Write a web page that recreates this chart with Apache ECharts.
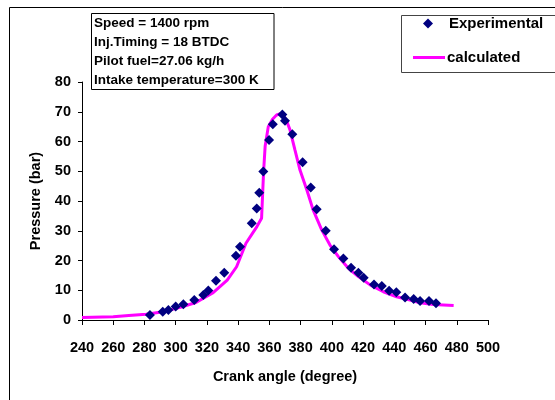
<!DOCTYPE html>
<html>
<head>
<meta charset="utf-8">
<script src="https://cdn.jsdelivr.net/npm/echarts@6/dist/echarts.min.js"></script>
<style>
html,body{margin:0;padding:0;background:#fff;}
#c{width:555px;height:400px;}
</style>
</head>
<body>
<div id="c"></div>
<script>
// Experimental data
const expAngle = [283.5, 291.7, 295.3, 300, 304.9, 311.9, 317.7, 320.9, 325.8, 331.1, 338.6, 341.2, 348.7, 351.9, 353.5, 356.1, 359.8, 362.2, 368.3, 370, 374.7, 381.3, 386.5, 390.3, 396.1, 401.4, 407.4, 412.3, 417, 420.4, 427, 432, 436.7, 441.3, 446.9, 452.4, 456.5, 462.2, 466.7];
const expPressure = [1.7, 2.8, 3.4, 4.5, 5.3, 6.7, 8.4, 9.9, 13.2, 15.9, 21.6, 24.6, 32.5, 37.5, 42.8, 49.9, 60.5, 65.8, 69.1, 67, 62.4, 53, 44.5, 37.2, 30, 23.8, 20.7, 17.6, 15.9, 14.2, 11.9, 11.4, 9.8, 9.3, 7.6, 7.1, 6.4, 6.4, 5.6];
// Calculated data
const calcAngle = [240, 260, 270, 281, 292, 303, 313, 324, 333, 339, 345, 352, 355, 356.3, 357.3, 359.3, 362, 364.6, 368, 371, 373.2, 376.4, 379.6, 384, 388, 393.5, 398.8, 404.2, 410.6, 417, 424.5, 433, 441.5, 450, 456.5, 465, 478];
const calcPressure = [0.8, 1.1, 1.5, 1.9, 2.8, 4.3, 5.9, 9.2, 13.4, 17.9, 25.8, 31.4, 34.2, 50, 58.5, 65, 67.5, 68.9, 69.5, 67, 63.9, 57.1, 50.4, 43.7, 37, 30.3, 25.2, 21.3, 17.4, 14.6, 11.8, 9.5, 7.8, 6.7, 5.8, 5.2, 4.9];
const infoLines = ['Speed = 1400 rpm', 'Inj.Timing = 18 BTDC', 'Pilot fuel=27.06 kg/h', 'Intake temperature=300 K'];

const FONT = '"Liberation Sans", Arial, sans-serif';
const chart = echarts.init(document.getElementById('c'), null, {renderer: 'canvas'});

const zip = (a, b) => a.map((v, i) => [v, b[i]]);
const legendText = {fontFamily: FONT, fontWeight: 'bold', fontSize: 15, color: '#000', lineHeight: 14};

chart.setOption({
  animation: false,
  backgroundColor: '#fff',
  textStyle: {fontFamily: FONT},
  grid: {left: 82, right: 67, top: 82, bottom: 80},
  legend: [
    {
      left: 423, top: 16, padding: 0,
      itemWidth: 10, itemHeight: 10,
      textStyle: Object.assign({}, legendText, {padding: [0, 0, 0, 11]}),
      data: [{name: 'Experimental', icon: 'diamond'}]
    },
    {
      left: 413, top: 50, padding: 0,
      itemWidth: 32, itemHeight: 3,
      textStyle: Object.assign({}, legendText, {padding: [0, 0, 0, -3]}),
      data: [{name: 'calculated', icon: 'rect'}]
    }
  ],
  xAxis: {
    type: 'value', min: 240, max: 500, interval: 20,
    name: 'Crank angle (degree)', nameLocation: 'middle', nameGap: 49,
    nameTextStyle: {fontFamily: FONT, fontWeight: 'bold', fontSize: 14.5, color: '#000'},
    axisLine: {show: true, lineStyle: {color: '#000', width: 1}},
    axisTick: {show: true, inside: false, length: 5, lineStyle: {color: '#000'}},
    axisLabel: {fontFamily: FONT, fontWeight: 'bold', fontSize: 14.5, color: '#000', margin: 20},
    splitLine: {show: false}
  },
  yAxis: {
    type: 'value', min: 0, max: 80, interval: 10,
    name: 'Pressure (bar)', nameLocation: 'middle', nameGap: 36, nameRotate: 90,
    nameTextStyle: {fontFamily: FONT, fontWeight: 'bold', fontSize: 14.5, color: '#000'},
    axisLine: {show: true, lineStyle: {color: '#000', width: 1}},
    axisTick: {show: true, inside: false, length: 4, lineStyle: {color: '#000'}},
    axisLabel: {fontFamily: FONT, fontWeight: 'bold', fontSize: 14.5, color: '#000', margin: 11},
    splitLine: {show: false}
  },
  series: [
    {
      name: 'calculated', type: 'line', data: zip(calcAngle, calcPressure),
      symbol: 'none', showSymbol: false, smooth: false,
      lineStyle: {color: '#FF00FF', width: 3},
      itemStyle: {color: '#FF00FF'}, z: 2
    },
    {
      name: 'Experimental', type: 'scatter', data: zip(expAngle, expPressure),
      symbol: 'diamond', symbolSize: 10,
      itemStyle: {color: '#000080', opacity: 1}, z: 3
    }
  ],
  graphic: [
    {type: 'rect', shape: {x: 9.5, y: 7.5, width: 700, height: 600}, style: {fill: 'none', stroke: '#000', lineWidth: 1}, silent: true, z: -10},
    {type: 'rect', shape: {x: 401.5, y: 15.5, width: 300, height: 57}, style: {fill: '#fff', stroke: '#444', lineWidth: 1}, silent: true, z: -5},
    {type: 'rect', shape: {x: 91.5, y: 13.5, width: 182.5, height: 76}, style: {fill: '#fff', stroke: '#000', lineWidth: 1}, silent: true, z: 10},
    {type: 'text', left: 94, top: 14, z: 11, silent: true,
      style: {text: infoLines.join('\n'), font: 'bold 13.5px ' + FONT, fill: '#000', lineHeight: 19}}
  ]
});
</script>
</body>
</html>
